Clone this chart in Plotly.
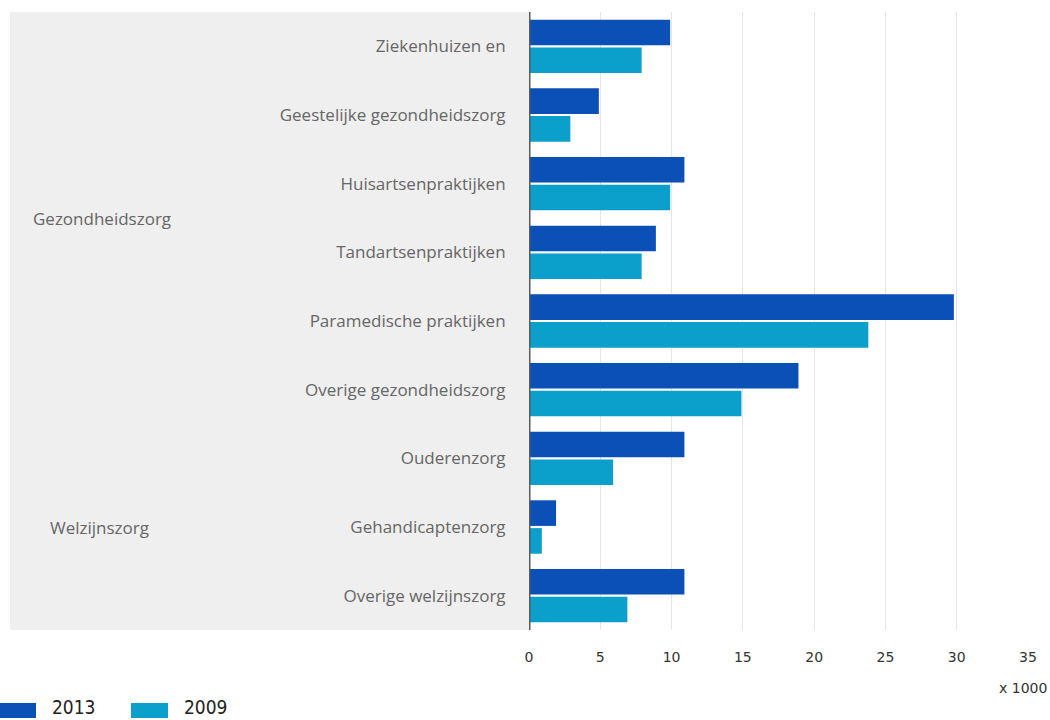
import plotly.graph_objects as go

# Data (x 1000)
categories = [
    "Ziekenhuizen en",
    "Geestelijke gezondheidszorg",
    "Huisartsenpraktijken",
    "Tandartsenpraktijken",
    "Paramedische praktijken",
    "Overige gezondheidszorg",
    "Ouderenzorg",
    "Gehandicaptenzorg",
    "Overige welzijnszorg",
]
values_2013 = [9.9, 4.9, 10.9, 8.9, 29.8, 18.9, 10.9, 1.9, 10.9]
values_2009 = [7.9, 2.9, 9.9, 7.9, 23.8, 14.9, 5.9, 0.9, 6.9]
groups = ["Gezondheidszorg", "Welzijnszorg"]
group_pos = [2.5, 7]          # centre of each group on the category axis
x_ticks = [0, 5, 10, 15, 20, 25, 30, 35]

COL_2013 = "#0a50b6"
COL_2009 = "#0b9fcc"
FONT = "DejaVu Sans"
LABEL_FONT = "Open Sans"

# plot area in pixels
L, R, T, B = 529, 1028, 12, 630
W, H = R - L, B - T


def px_x(p):
    return (p - L) / W


def px_y(p):
    return (B - p) / H


fig = go.Figure()
fig.add_trace(go.Bar(y=categories, x=values_2013, name="2013", orientation="h",
                     marker=dict(color=COL_2013, line=dict(width=0))))
fig.add_trace(go.Bar(y=categories, x=values_2009, name="2009", orientation="h",
                     marker=dict(color=COL_2009, line=dict(width=0))))

shapes = [
    # grey label panel
    dict(type="rect", xref="paper", yref="paper", x0=px_x(10), x1=0, y0=0, y1=1,
         fillcolor="#efefef", line=dict(width=0), layer="below"),
    # zero line
    dict(type="line", xref="x", yref="paper", x0=0, x1=0, y0=0, y1=1,
         line=dict(color="#5a5a5a", width=3), layer="above"),
]

# hand-made legend with wide swatches
legend_items = [("2013", COL_2013, 0, 36, 52), ("2009", COL_2009, 131, 168, 184)]
annotations = []
for name, col, sx0, sx1, tx in legend_items:
    shapes.append(dict(type="rect", xref="paper", yref="paper",
                       x0=px_x(sx0), x1=px_x(sx1), y0=px_y(718), y1=px_y(703),
                       fillcolor=col, line=dict(width=0)))
    annotations.append(dict(xref="paper", yref="paper", x=px_x(tx - 2), y=px_y(720),
                            text=name, showarrow=False, xanchor="left", yanchor="bottom",
                            font=dict(family="DejaVu Sans Condensed, " + FONT, size=19, color="#222")))

for g, pos in zip(groups, group_pos):
    annotations.append(dict(xref="paper", yref="y", x=px_x(31 if g == groups[0] else 48), y=pos,
                            text=g, showarrow=False, xanchor="left", yanchor="middle",
                            font=dict(family=LABEL_FONT, size=17, color="#666")))

annotations.append(dict(xref="paper", yref="paper", x=px_x(1049), y=px_y(688),
                        text="x 1000", showarrow=False, xanchor="right", yanchor="middle",
                        font=dict(family=FONT, size=14, color="#333")))

fig.update_layout(
    width=1050, height=720,
    margin=dict(l=L, r=1050 - R, t=T, b=720 - B, autoexpand=False),
    paper_bgcolor="white", plot_bgcolor="white",
    barmode="group", bargap=0.19, bargroupgap=0.08,
    showlegend=False,
    font=dict(family=FONT, size=14, color="#555"),
    shapes=shapes, annotations=annotations,
    xaxis=dict(range=[0, 35], tickvals=x_ticks, showgrid=True, gridcolor="#e6e6e6",
               gridwidth=1, zeroline=False, showline=False,
               ticks="outside", ticklen=14, tickcolor="rgba(0,0,0,0)",
               tickfont=dict(family=FONT, size=14, color="#333"), fixedrange=True),
    yaxis=dict(autorange="reversed", showgrid=False, zeroline=False, showline=False,
               ticks="outside", ticklen=19, tickcolor="rgba(0,0,0,0)",
               tickfont=dict(family=LABEL_FONT, size=17, color="#666"), fixedrange=True),
)

# drop the default page margin so the figure sits at the window's top-left
fig.write_html("out.html", config={"displayModeBar": False},
               post_script="document.body.style.margin = '0';")
